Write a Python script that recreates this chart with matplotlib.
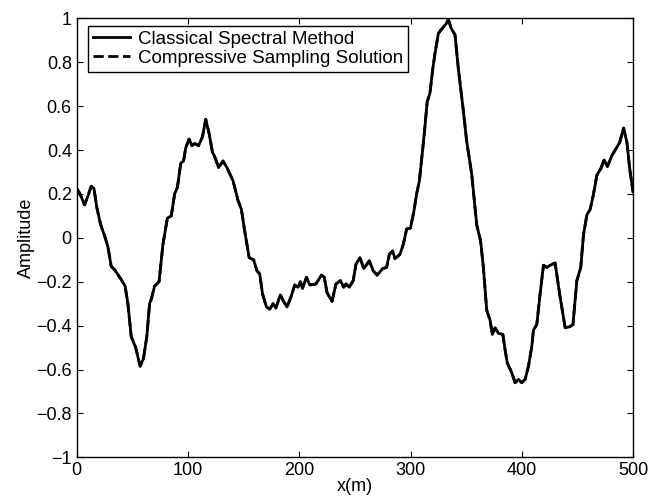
import numpy as np
import matplotlib as mp
mp.use("Agg")
import matplotlib.pyplot as plt
from matplotlib.ticker import FuncFormatter

plt.rcParams["font.family"] = ["Liberation Sans", "DejaVu Sans"]

## DATA ##
x_m = [0, 3, 7, 10, 13, 15.5, 18, 21.5, 25, 28, 31, 34, 40, 43.5, 46, 49, 53, 57, 60, 63,
       65.5, 67, 70, 74, 77.5, 81.5, 85, 88, 90.5, 93.5, 96, 98, 101, 103.5, 106, 109.5,
       113, 116, 119, 122, 124, 127.5, 131.5, 135, 140.5, 145, 148, 151, 155, 159, 162,
       164.5, 167, 170.5, 173.5, 176.5, 179, 183, 186, 189, 192.5, 196, 199, 201, 203,
       206.5, 209.5, 215, 220, 222.5, 225, 229.5, 233, 237, 240, 242, 245, 248.5, 251,
       254.5, 258, 263, 266.5, 270, 275, 278.5, 281, 284, 286, 290.5, 293.5, 296.5, 300,
       303, 305.5, 308, 310, 312.5, 315, 317.5, 320, 322, 325, 327, 329.5, 332, 334,
       336.5, 340, 343, 347, 350.5, 355, 359.5, 363, 365.5, 368.5, 371.5, 373.5, 376,
       379, 383, 385, 387, 391, 394, 397, 400, 403, 406, 409, 410.5, 413.5, 416.5, 419.5,
       422.5, 425.5, 430, 434, 439, 443, 446, 449.5, 453, 455.5, 458.5, 461.5, 464.5,
       467.5, 471, 474, 477, 481, 484, 488, 491.5, 494.5, 497, 500]
classical_amp = [0.225, 0.20, 0.15, 0.19, 0.235, 0.225, 0.14, 0.06, 0.01, -0.04, -0.13, -0.145,
                 -0.19, -0.22, -0.30, -0.45, -0.50, -0.585, -0.55, -0.45, -0.30, -0.28, -0.22,
                 -0.20, -0.03, 0.09, 0.10, 0.20, 0.23, 0.34, 0.35, 0.41, 0.45, 0.42, 0.43, 0.42,
                 0.46, 0.54, 0.475, 0.39, 0.37, 0.32, 0.35, 0.32, 0.26, 0.17, 0.13, 0.03, -0.09,
                 -0.10, -0.15, -0.165, -0.255, -0.315, -0.325, -0.30, -0.32, -0.26, -0.29,
                 -0.315, -0.27, -0.215, -0.225, -0.20, -0.23, -0.18, -0.215, -0.21, -0.17,
                 -0.18, -0.25, -0.29, -0.21, -0.195, -0.225, -0.21, -0.225, -0.195, -0.12,
                 -0.09, -0.14, -0.105, -0.15, -0.17, -0.14, -0.135, -0.075, -0.06, -0.095,
                 -0.075, -0.03, 0.04, 0.045, 0.12, 0.20, 0.26, 0.36, 0.48, 0.62, 0.66, 0.77,
                 0.84, 0.93, 0.945, 0.96, 0.975, 0.995, 0.955, 0.925, 0.77, 0.60, 0.44, 0.29,
                 0.06, -0.015, -0.135, -0.33, -0.375, -0.44, -0.41, -0.435, -0.44, -0.51,
                 -0.57, -0.615, -0.66, -0.645, -0.66, -0.645, -0.585, -0.495, -0.42, -0.395,
                 -0.255, -0.125, -0.135, -0.125, -0.115, -0.255, -0.41, -0.405, -0.395, -0.195,
                 -0.135, 0.015, 0.105, 0.13, 0.20, 0.285, 0.315, 0.355, 0.325, 0.375, 0.40,
                 0.435, 0.50, 0.435, 0.315, 0.21]
# the two solutions overlap everywhere in the picture
compressive_amp = list(classical_amp)

x_ticks = [0, 100, 200, 300, 400, 500]
y_ticks = [-1, -0.8, -0.6, -0.4, -0.2, 0, 0.2, 0.4, 0.6, 0.8, 1]


def ylab(v, pos):
    s = "%g" % round(v, 1)
    if s == "-0":
        s = "0"
    return s.replace("-", "\u2212")


fig = plt.figure(figsize=(6.49, 5.01), dpi=100)
ax = fig.add_axes([0.1182, 0.0872, 0.8572, 0.8762])

ax.plot(x_m, classical_amp, color="k", lw=2, ls="-", label="Classical Spectral Method")
ax.plot(x_m, compressive_amp, color="k", lw=2, ls="--", label="Compressive Sampling Solution")

ax.set_xlim(0, 500)
ax.set_ylim(-1, 1)
ax.set_xticks(x_ticks)
ax.set_yticks(y_ticks)
ax.yaxis.set_major_formatter(FuncFormatter(ylab))
ax.tick_params(direction="in", length=4, width=0.8, top=True, right=True,
               labelsize=13, pad=3.5)
for s in ax.spines.values():
    s.set_linewidth(1.0)

ax.set_xlabel("x(m)", fontsize=13, labelpad=-1)
ax.set_ylabel("Amplitude", fontsize=13, labelpad=1)

leg = ax.legend(loc="upper left", bbox_to_anchor=(0.0203, 0.9825), borderaxespad=0.,
                fontsize=13.5, fancybox=False, framealpha=1, edgecolor="k",
                handlelength=2.0, handletextpad=0.43, borderpad=0.25, labelspacing=0.1)
leg.get_frame().set_linewidth(1.0)

fig.savefig("out.png", dpi=100)
